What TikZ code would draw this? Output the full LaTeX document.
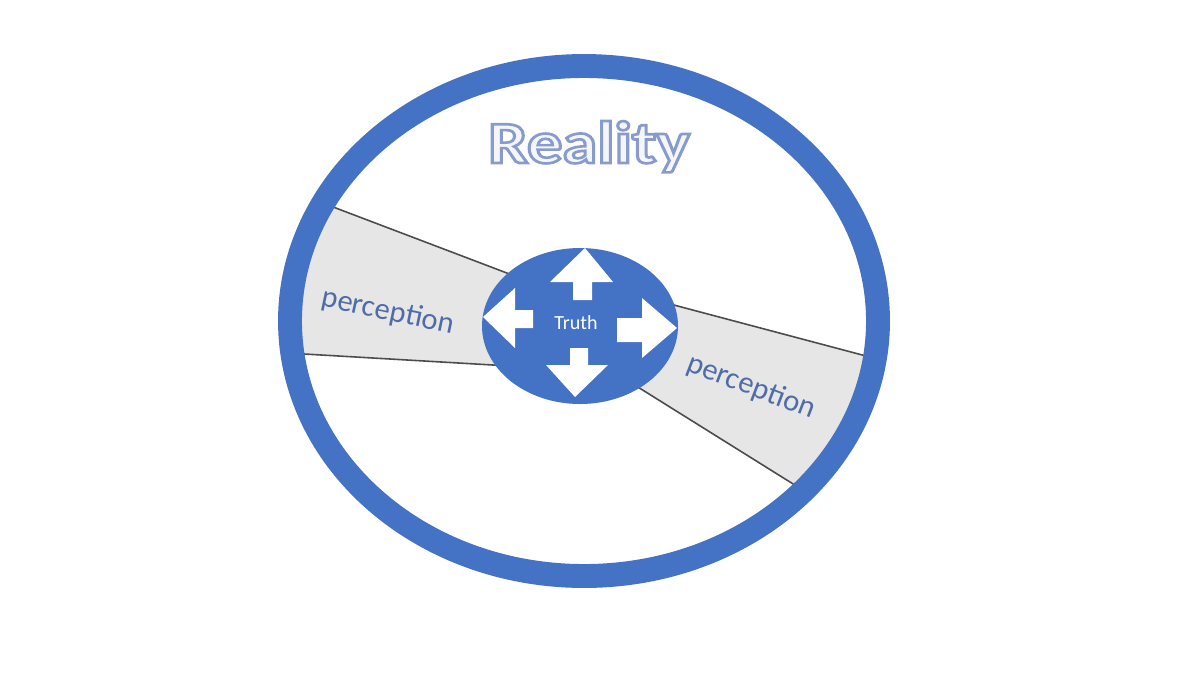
\documentclass[tikz,border=0pt]{standalone}
\usepackage{fontspec}
\setmainfont{Carlito}
\definecolor{ringblue}{HTML}{4472C4}
\definecolor{wedgegray}{HTML}{E6E6E6}
\definecolor{pertext}{HTML}{4F6CA8}
\definecolor{paleface}{HTML}{F4F6FC}
% stroked outline for the title (fill in text colour, stroke in rim blue)
\newcommand{\outlined}[1]{\special{pdf:literal direct 2 Tr 0.75 w 0.53 0.61 0.80 RG}#1\special{pdf:literal direct 0 Tr}}

\begin{document}
\begin{tikzpicture}[x=0.01cm, y=-0.01cm,
        ring/.style={draw=ringblue, line width=6.8pt},
        core/.style={fill=ringblue},
        wedge/.style={fill=wedgegray},
        rim/.style={draw=black!70, line width=0.45pt},
        pointer/.style={fill=white},
        pertxt/.style={text=pertext, inner sep=0pt, font=\fontsize{8.7}{10}\selectfont},
        realtxt/.style={inner sep=0pt, anchor=base, xscale=1.18, text=paleface, font=\fontsize{17}{20}\selectfont\bfseries}
    ]
    \useasboundingbox (0,0) rectangle (1200,675);

    % wedge corners
    \coordinate (lt) at (270,183);
    \coordinate (lti) at (520,278);
    \coordinate (lb) at (270,352);
    \coordinate (lbi) at (510,366);
    \coordinate (rt) at (900,365);
    \coordinate (rti) at (655,300);
    \coordinate (rb) at (830,507);
    \coordinate (rbi) at (625,379);

    \begin{scope}
        \clip (584,321) ellipse [x radius=294, y radius=255];
        \fill[wedge] (lt) -- (lti) -- (lbi) -- (lb) -- cycle;
        \fill[wedge] (rti) -- (rt) -- (rb) -- (rbi) -- cycle;
        \draw[rim] (lt) -- (lti);
        \draw[rim] (lb) -- (lbi);
        \draw[rim] (rti) -- (rt);
        \draw[rim] (rbi) -- (rb);
    \end{scope}

    \draw[ring] (584,321) ellipse [x radius=294, y radius=255];
    \fill[core] (580,326) ellipse [x radius=98, y radius=78];

    % four arrows
    \fill[pointer] (585,248) -- (613,282) -- (592,282) -- (592,300) -- (573,300) -- (573,282) -- (550,282) -- cycle;
    \fill[pointer] (483,317) -- (515,288) -- (515,310) -- (533,310) -- (533,328) -- (515,328) -- (515,348) -- cycle;
    \fill[pointer] (677,328) -- (642,298) -- (642,318) -- (617,318) -- (617,342) -- (642,342) -- (642,358) -- cycle;
    \fill[pointer] (575,397) -- (608,365) -- (588,365) -- (588,348) -- (570,348) -- (570,365) -- (546,365) -- cycle;

    \node[text=white, inner sep=0pt, font=\fontsize{5.7}{7}\selectfont] (truth) at (576,323) {Truth};

    \node[pertxt, rotate=-12] (percl) at (388,312) {perception};
    \node[pertxt, rotate=-21] (percr) at (751,387) {perception};

    \node[realtxt] (reality) at (589,163) {\outlined{Reality}};
\end{tikzpicture}
\end{document}
